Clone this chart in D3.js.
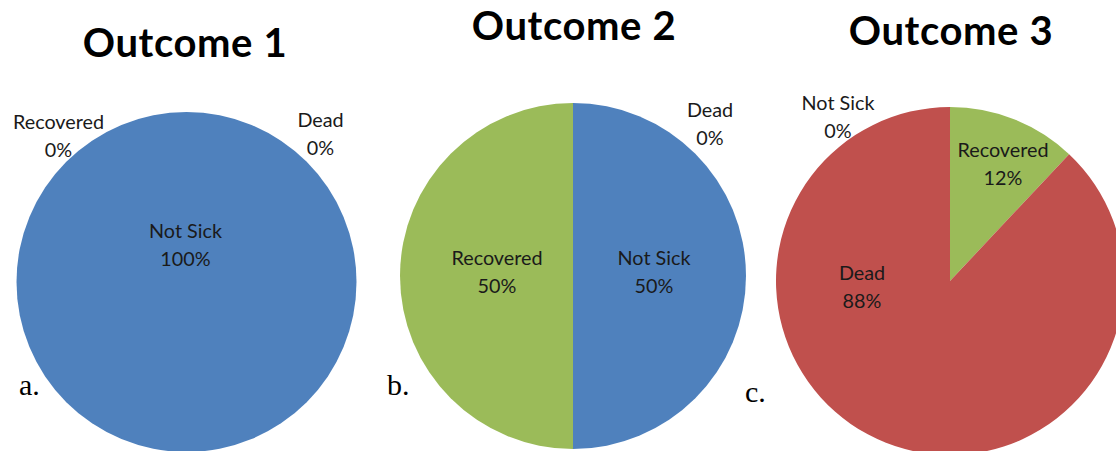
<!DOCTYPE html>
<html>
<head>
<meta charset="utf-8">
<script src="https://cdn.jsdelivr.net/npm/d3@7"></script>
<style>
  html, body { margin: 0; padding: 0; background: #fff; }
  svg { display: block; }
</style>
</head>
<body>
<svg id="chart" width="1116" height="451"></svg>
<script>
// Outcome categories and their shares (percent) in each scenario
const categories = ["Not Sick", "Recovered", "Dead"];
const outcome1 = [100, 0, 0];
const outcome2 = [50, 50, 0];
const outcome3 = [0, 12, 88];
const titles = ["Outcome 1", "Outcome 2", "Outcome 3"];
const panelLetters = ["a.", "b.", "c."];

const colors = d3.scaleOrdinal()
  .domain(categories)
  .range(["#4F81BD", "#9BBB59", "#C0504D"]);

// Layout of each panel: pie centre/radius, title, letter and label anchors
// (label anchors are offsets from the pie centre, one per category)
const panels = [
  { values: outcome1, cx: 186.5, cy: 282, r: 170,
    title: { x: 185, y: 57 }, letter: { x: 19, y: 395 },
    labels: [[-1, -30], [-128, -139], [134, -141]] },
  { values: outcome2, cx: 573, cy: 276, r: 173,
    title: { x: 574, y: 40 }, letter: { x: 387, y: 395 },
    labels: [[81, 3], [-76, 3], [137, -145]] },
  { values: outcome3, cx: 950, cy: 281, r: 174,
    title: { x: 951, y: 45 }, letter: { x: 745, y: 402 },
    labels: [[-112, -157], [53, -110], [-88, 13]] }
];

const svg = d3.select("#chart");
const pie = d3.pie().sort(null).value(d => d.value);

panels.forEach((p, i) => {
  const data = categories.map((c, k) => ({ category: c, value: p.values[k] }));
  const arc = d3.arc().innerRadius(0).outerRadius(p.r);
  const g = svg.append("g").attr("transform", `translate(${p.cx},${p.cy})`);

  g.selectAll("path.slice")
    .data(pie(data).filter(d => d.data.value > 0))
    .join("path")
    .attr("class", "slice")
    .attr("d", arc)
    .attr("fill", d => colors(d.data.category));

  // data labels: category name and share on two lines
  const lab = g.selectAll("text.label")
    .data(data)
    .join("text")
    .attr("class", "label")
    .attr("text-anchor", "middle")
    .attr("font-family", "Lato, 'Open Sans', sans-serif")
    .attr("font-size", 19.8)
    .attr("fill", "#1a1a1a")
    .attr("transform", (d, k) => `translate(${p.labels[k][0]},${p.labels[k][1]})`);
  lab.append("tspan").attr("x", 0).attr("y", -14).text(d => d.category);
  lab.append("tspan").attr("x", 0).attr("y", 14).text(d => d.value + "%");

  svg.append("text")
    .attr("x", p.title.x).attr("y", p.title.y)
    .attr("text-anchor", "middle")
    .attr("font-family", "Lato, 'Open Sans', sans-serif")
    .attr("font-weight", "bold")
    .attr("font-size", 40)
    .attr("letter-spacing", 0.6)
    .attr("fill", "#000")
    .text(titles[i]);

  svg.append("text")
    .attr("x", p.letter.x).attr("y", p.letter.y)
    .attr("font-family", "'Liberation Serif', 'Times New Roman', serif")
    .attr("font-size", 30)
    .attr("fill", "#000")
    .text(panelLetters[i]);
});
</script>
</body>
</html>
